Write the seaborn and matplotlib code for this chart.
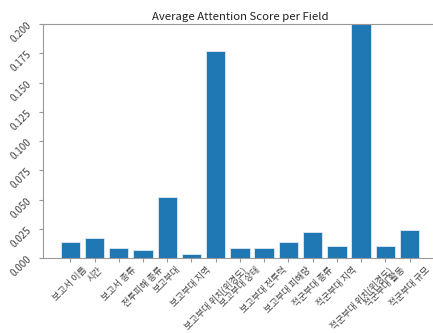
import matplotlib
matplotlib.use("Agg")
import matplotlib.pyplot as plt
import seaborn as sns
import pandas as pd

fields = ["보고서 이름", "시간", "보고서 종류", "전투피해 종류", "보고부대", "보고부대 지역",
          "보고부대 위치(위경도)", "보고부대 상태", "보고부대 전투력", "보고부대 피해량",
          "적군부대 종류", "적군부대 지역", "적군부대 위치(위경도)", "적군부대 활동", "적군부대 규모"]
scores = [0.0135, 0.0174, 0.0082, 0.0067, 0.0525, 0.0034, 0.177, 0.0082, 0.0082, 0.0135,
          0.0220, 0.0101, 0.215, 0.0107, 0.0242]
y_ticks = [0.000, 0.025, 0.050, 0.075, 0.100, 0.125, 0.150, 0.175, 0.200]

plt.rcParams['font.family'] = ['Noto Sans CJK KR', 'DejaVu Sans']

df = pd.DataFrame({"field": fields, "score": scores})
fig = plt.figure(figsize=(4.33, 3.33), dpi=100)
ax = fig.add_axes([0.0986, 0.225, 0.911, 0.703])
sns.barplot(data=df, x="field", y="score", color="#1f77b4", saturation=1,
            edgecolor="#dfe9f2", linewidth=0.6, width=0.8, ax=ax)
ax.set_xlim(-1.14, 15.14)
ax.set_ylim(0, 0.2)
ax.set_yticks(y_ticks)
ax.set_yticklabels([f"{v:.3f}" for v in y_ticks], rotation=45, fontsize=7, color="#444444")
ax.set_xticks(range(len(fields)))
ax.set_xticklabels(fields, rotation=45, fontsize=6.6, color="#444444")
ax.tick_params(axis="x", pad=2)
ax.set_xlabel("")
ax.set_ylabel("")
ax.set_title("Average Attention Score per Field", fontsize=8.2, color="#222222", pad=3)
for s in ax.spines.values():
    s.set_color("#999999")
ax.tick_params(colors="#999999", labelcolor="#444444", length=3, width=0.8)
fig.savefig("out.png", dpi=100)
